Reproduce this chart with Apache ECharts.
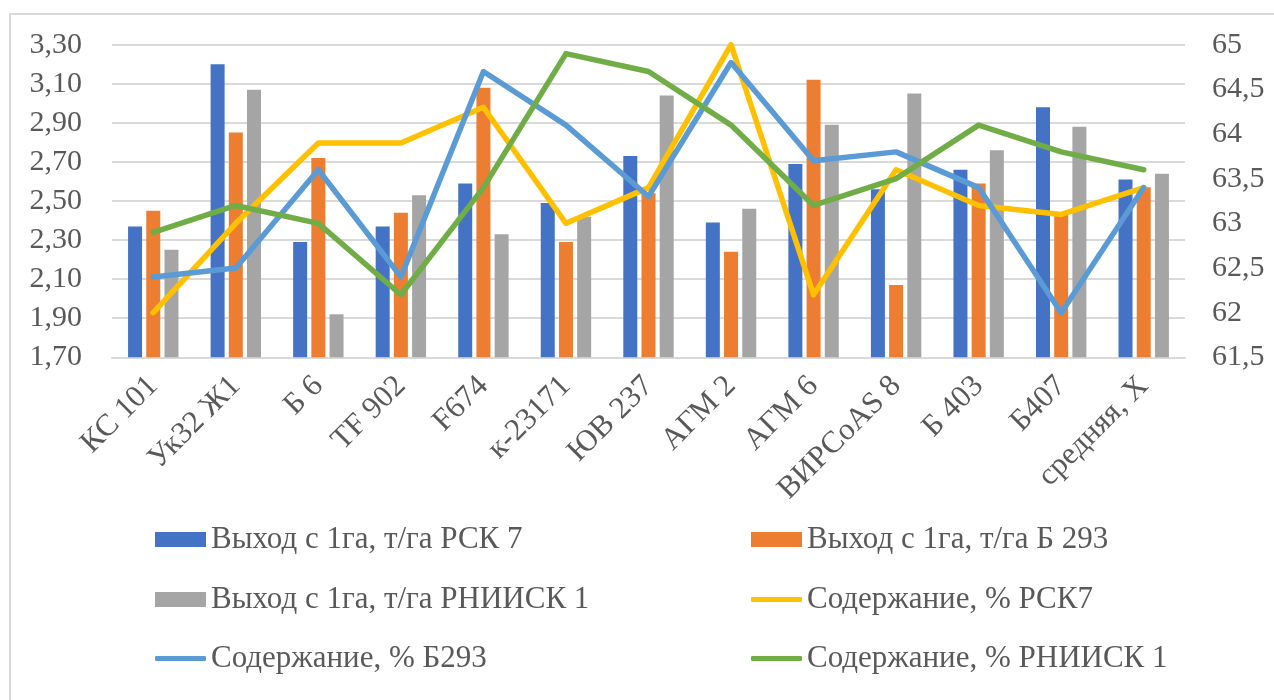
<!DOCTYPE html>
<html>
<head>
<meta charset="utf-8">
<script src="https://cdn.jsdelivr.net/npm/echarts@6/dist/echarts.min.js"></script>
<style>
  html, body { margin: 0; padding: 0; background: #fff; }
  #chart { width: 1274px; height: 700px; }
</style>
</head>
<body>
<div id="chart"></div>
<script>
// сорта
var categories = ['КС 101', 'Ук32 Ж1', 'Б 6', 'TF 902', 'F674', 'к-23171', 'ЮВ 237', 'АГМ 2', 'АГМ 6', 'ВИРСоAS 8', 'Б 403', 'Б407', 'средняя, Х']
// выход с 1 га, т/га
var yieldRsk7 = [2.37, 3.20, 2.29, 2.37, 2.59, 2.49, 2.73, 2.39, 2.69, 2.56, 2.66, 2.98, 2.61]
var yieldB293 = [2.45, 2.85, 2.72, 2.44, 3.08, 2.29, 2.54, 2.24, 3.12, 2.07, 2.59, 2.43, 2.57]
var yieldRnii = [2.25, 3.07, 1.92, 2.53, 2.33, 2.42, 3.04, 2.46, 2.89, 3.05, 2.76, 2.88, 2.64]
// содержание, %
var contRsk7 = [62.0, 63.0, 63.9, 63.9, 64.3, 63.0, 63.4, 65.0, 62.2, 63.6, 63.2, 63.1, 63.4]
var contB293 = [62.4, 62.5, 63.6, 62.4, 64.7, 64.1, 63.3, 64.8, 63.7, 63.8, 63.4, 62.0, 63.4]
var contRnii = [62.9, 63.2, 63.0, 62.2, 63.4, 64.9, 64.7, 64.1, 63.2, 63.5, 64.1, 63.8, 63.6]

var names = [
  'Выход с 1га, т/га РСК 7',
  'Выход с 1га, т/га Б 293',
  'Выход с 1га, т/га РНИИСК 1',
  'Содержание, % РСК7',
  'Содержание, % Б293',
  'Содержание, % РНИИСК 1'
]
var colors = ['#4472C4', '#ED7D31', '#A5A5A5', '#FFC000', '#5B9BD5', '#70AD47']

var font = 'Liberation Serif'
var textColor = '#595959'
var gridColor = '#d9d9d9'

function makeLegend(i, left, top) {
  var isBar = i < 3
  return {
    data: [names[i]],
    left: left,
    top: top,
    padding: 0,
    icon: isBar ? 'rect' : 'roundRect',
    itemWidth: 51,
    itemHeight: isBar ? 15 : 5,
    selectedMode: false,
    textStyle: { fontFamily: font, fontSize: 31, color: textColor }
  }
}

function barSeries(i, data) {
  return {
    name: names[i],
    type: 'bar',
    yAxisIndex: 0,
    barWidth: 14,
    barGap: '30%',
    itemStyle: { color: colors[i] },
    data: data
  }
}

function lineSeries(i, data) {
  return {
    name: names[i],
    type: 'line',
    yAxisIndex: 1,
    symbol: 'none',
    lineStyle: { color: colors[i], width: 5.5, join: 'round', cap: 'round' },
    itemStyle: { color: colors[i] },
    data: data
  }
}

var chart = echarts.init(document.getElementById('chart'))
chart.setOption({
  animation: false,
  backgroundColor: '#fff',
  graphic: [{
    type: 'rect',
    shape: { x: 10, y: 14, width: 1300, height: 720 },
    style: { fill: 'none', stroke: gridColor, lineWidth: 2 },
    silent: true
  }],
  grid: { left: 112, right: 89, top: 44.7, bottom: 342.7 },
  legend: [
    makeLegend(0, 155, 524),
    makeLegend(1, 751, 524),
    makeLegend(2, 155, 584),
    makeLegend(3, 751, 584),
    makeLegend(4, 155, 643),
    makeLegend(5, 751, 643)
  ],
  xAxis: {
    type: 'category',
    data: categories,
    axisLine: { lineStyle: { color: gridColor, width: 2 } },
    axisTick: { show: false },
    axisLabel: {
      rotate: 45,
      margin: 24,
      interval: 0,
      padding: [20, 0, 0, 0],
      fontFamily: font,
      fontSize: 31,
      color: textColor
    }
  },
  yAxis: [
    {
      // выход: шаг 0,1, подписи через один
      type: 'value',
      position: 'left',
      min: 1.7,
      max: 3.3,
      interval: 0.1,
      axisLine: { show: false },
      axisTick: { show: false },
      splitLine: { show: false },
      axisLabel: {
        margin: 30,
        fontFamily: font,
        fontSize: 30,
        color: textColor,
        formatter: function (v) {
          return Math.round(v * 10) % 2 === 1 ? v.toFixed(2).replace('.', ',') : ''
        }
      }
    },
    {
      type: 'value',
      position: 'right',
      min: 61.5,
      max: 65,
      interval: 0.5,
      axisLine: { show: false },
      axisTick: { show: false },
      splitLine: { show: false },
      axisLabel: {
        margin: 27,
        fontFamily: font,
        fontSize: 30,
        color: textColor,
        formatter: function (v) {
          return String(v).replace('.', ',')
        }
      }
    },
    {
      // только сетка
      type: 'value',
      position: 'left',
      min: 0,
      max: 8,
      interval: 1,
      axisLine: { show: false },
      axisTick: { show: false },
      axisLabel: { show: false },
      splitLine: { lineStyle: { color: gridColor, width: 2 } }
    }
  ],
  series: [
    barSeries(0, yieldRsk7),
    barSeries(1, yieldB293),
    barSeries(2, yieldRnii),
    lineSeries(3, contRsk7),
    lineSeries(4, contB293),
    lineSeries(5, contRnii)
  ]
})
</script>
</body>
</html>
